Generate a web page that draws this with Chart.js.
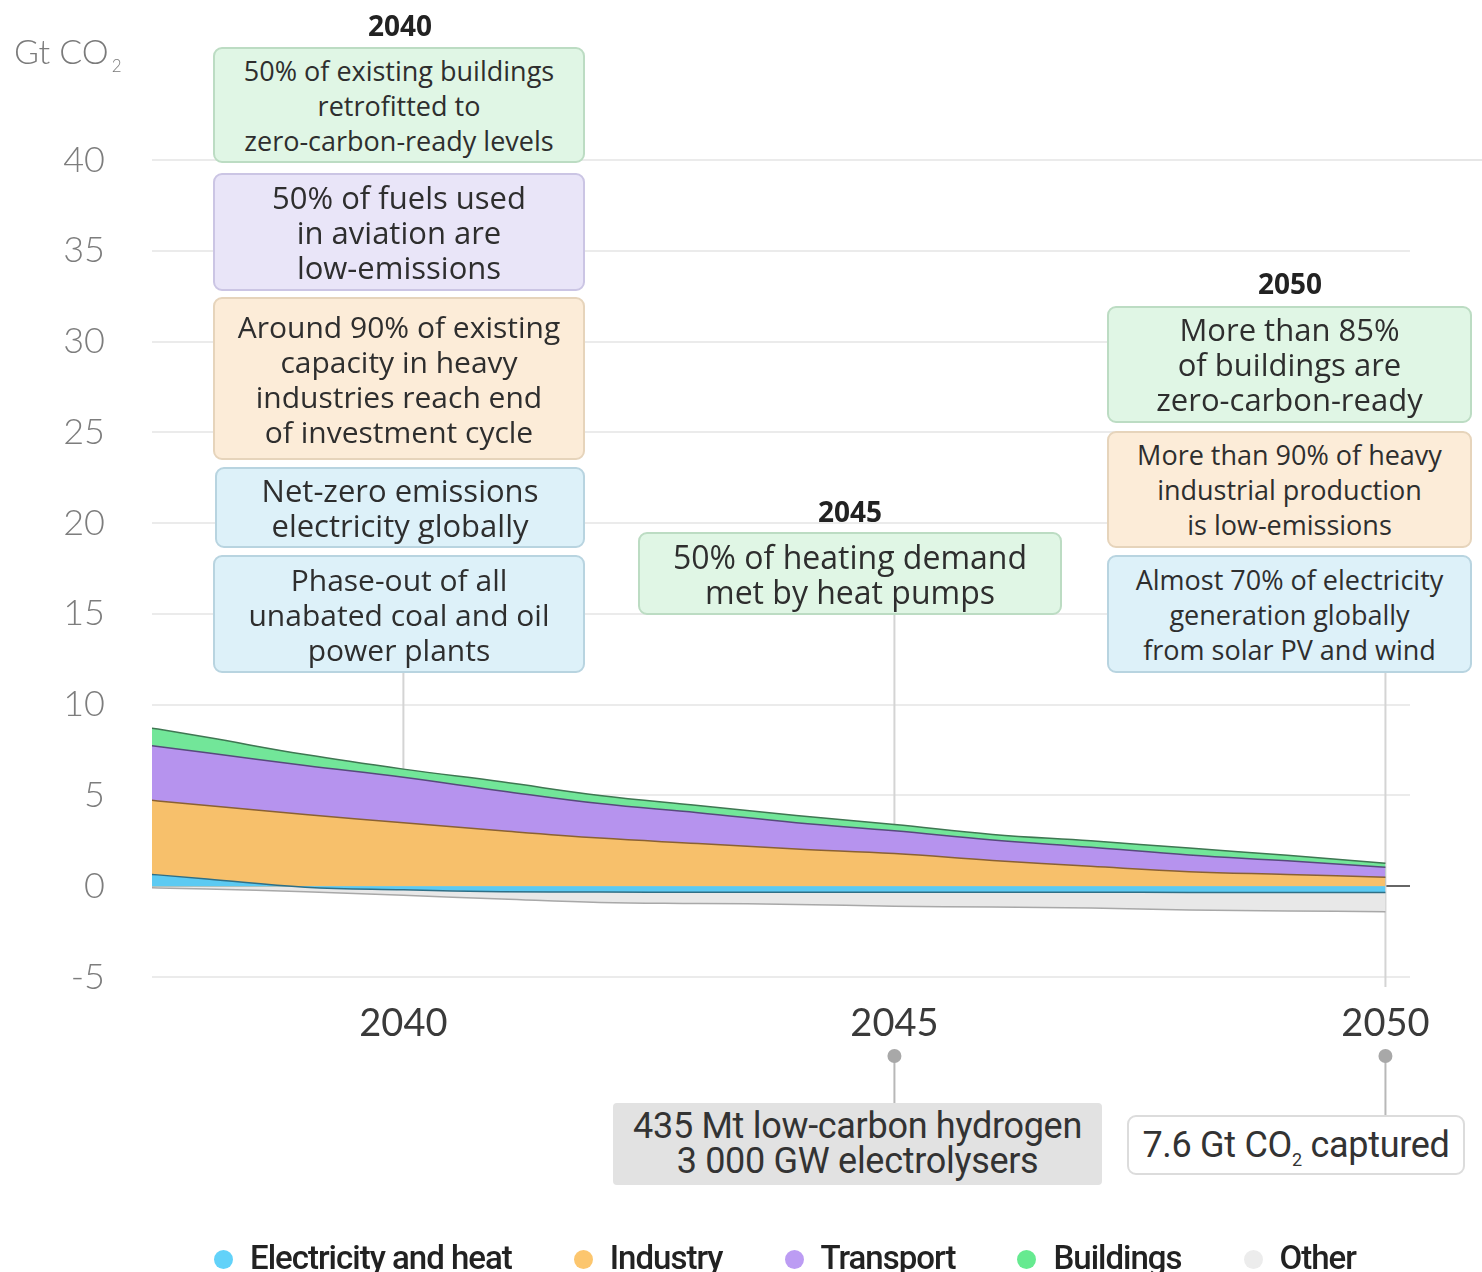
<!DOCTYPE html>
<html>
<head>
<meta charset="utf-8">
<script src="https://cdn.jsdelivr.net/npm/chart.js@4.4.1/dist/chart.umd.min.js"></script>
<style>
  body { margin: 0; background: #fff; font-family: "Open Sans", Lato, sans-serif; }
  #wrap { position: relative; width: 1482px; height: 1272px; overflow: hidden; }
  #chart { position: absolute; left: 0; top: 0; }
  .note { position: absolute; box-sizing: border-box; border: 2px solid; border-radius: 9px;
          display: flex; align-items: center; justify-content: center; text-align: center;
          color: #2e2e2e; line-height: 35px; white-space: nowrap; }
  .green  { background: #e0f6e5; border-color: #bcdcc3; }
  .purple { background: #e9e5f8; border-color: #cbc5e4; }
  .orange { background: #fcecd8; border-color: #e6d4bb; }
  .blue   { background: #ddf1f9; border-color: #b8d4e0; }
  .grey   { background: #e2e2e2; border-color: #e2e2e2; border-radius: 4px; }
  .plain  { background: #fff; border-color: #dcdcdc; }
  .year { position: absolute; font-weight: 700; font-size: 28px; color: #222; transform: translateX(-50%); }
  .cond { font-family: Roboto, sans-serif; letter-spacing: -0.3px; color: #333; }
  .cond sub { font-size: 18px; vertical-align: baseline; position: relative; top: 9px; line-height: 0; }
  #unit { position: absolute; left: 14px; top: 30px; font-family: Lato, sans-serif; font-size: 34px; color: #7a7a7a; font-weight: 300; }
  #unit sub { font-size: 17px; margin-left: 3px; }
  #legend { position: absolute; left: 214px; top: 1238px; display: flex; gap: 62px;
            font-family: Roboto, sans-serif; font-weight: 500; font-size: 33px; color: #222; letter-spacing: -1px; }
  #legend span.dot { display: inline-block; width: 19px; height: 19px; border-radius: 50%; margin-right: 17px; vertical-align: 0px; }
</style>
</head>
<body>
<div id="wrap">
  <canvas id="chart" width="1482" height="1272"></canvas>

  <div id="unit">Gt CO<sub>2</sub></div>

  <div class="year" style="left:400px; top:6px;">2040</div>
  <div class="note green"  style="left:213px; top:47px;  width:372px; height:116px; font-size:27px;">50% of existing buildings<br>retrofitted to<br>zero-carbon-ready levels</div>
  <div class="note purple" style="left:213px; top:173px; width:372px; height:118px; font-size:31px;">50% of fuels used<br>in aviation are<br>low-emissions</div>
  <div class="note orange" style="left:213px; top:297px; width:372px; height:163px; font-size:30px;">Around 90% of existing<br>capacity in heavy<br>industries reach end<br>of investment cycle</div>
  <div class="note blue"   style="left:215px; top:467px; width:370px; height:81px;  font-size:31px;">Net-zero emissions<br>electricity globally</div>
  <div class="note blue"   style="left:213px; top:555px; width:372px; height:118px; font-size:30px;">Phase-out of all<br>unabated coal and oil<br>power plants</div>

  <div class="year" style="left:850px; top:492px;">2045</div>
  <div class="note green"  style="left:638px; top:532px; width:424px; height:83px; font-size:32px;">50% of heating demand<br>met by heat pumps</div>

  <div class="year" style="left:1290px; top:264px;">2050</div>
  <div class="note green"  style="left:1107px; top:306px; width:365px; height:117px; font-size:31px;">More than 85%<br>of buildings are<br>zero-carbon-ready</div>
  <div class="note orange" style="left:1107px; top:431px; width:365px; height:117px; font-size:27px;">More than 90% of heavy<br>industrial production<br>is low-emissions</div>
  <div class="note blue"   style="left:1107px; top:555px; width:365px; height:118px; font-size:27px;">Almost 70% of electricity<br>generation globally<br>from solar PV and wind</div>

  <div class="note grey cond"  style="left:613px; top:1103px; width:489px; height:82px; font-size:36px;">435 Mt low-carbon hydrogen<br>3 000 GW electrolysers</div>
  <div class="note plain cond" style="left:1127px; top:1115px; width:338px; height:60px; font-size:36px;"><span>7.6 Gt CO<sub>2</sub> captured</span></div>

  <div id="legend"></div>
</div>

<script>
// CO2 emissions by sector, Gt CO2 per year
const years = [2037, 2038, 2039, 2040, 2041, 2042, 2043, 2044, 2045, 2046, 2047, 2048, 2049, 2050];
const electricity = [0.85, 0.40, -0.05, -0.20, -0.30, -0.32, -0.33, -0.33, -0.33, -0.33, -0.33, -0.34, -0.34, -0.35];
const industry    = [4.10, 4.05, 3.95, 3.50, 3.05, 2.65, 2.35, 2.05, 1.80, 1.42, 1.10, 0.80, 0.65, 0.50];
const transport   = [3.10, 2.90, 2.70, 2.50, 2.20, 1.90, 1.70, 1.45, 1.25, 1.13, 1.05, 0.92, 0.75, 0.55];
const buildings   = [1.05, 0.85, 0.60, 0.45, 0.50, 0.45, 0.40, 0.40, 0.35, 0.30, 0.35, 0.38, 0.30, 0.22];
const other       = [-0.05, -0.15, -0.25, -0.30, -0.40, -0.57, -0.62, -0.67, -0.77, -0.82, -0.87, -0.97, -1.02, -1.05];

const sectorNames = ["Electricity and heat", "Industry", "Transport", "Buildings", "Other"];
const sectorData = [electricity, industry, transport, buildings, other];
const fillColors = ["#5ccaf2", "#f7c06b", "#b693ee", "#72e699", "#e8e8e8"];
const lineColors = ["#2f6f86", "#8a6133", "#574a7c", "#3f7652", "#a8a8a8"];
const legendColors = ["#62d2f9", "#fcc66e", "#bc9cf3", "#66ea90", "#ececec"];

const yTicks = [-5, 0, 5, 10, 15, 20, 25, 30, 35, 40];
const xTicks = [2040, 2045, 2050];

// html legend
const legend = document.getElementById("legend");
sectorNames.forEach((name, i) => {
    const item = document.createElement("div");
    item.innerHTML = '<span class="dot" style="background:' + legendColors[i] + '"></span>' + name;
    legend.appendChild(item);
});

// total of the positive stack at a year
function stackTop(year) {
    const i = years.indexOf(year);
    let sum = 0;
    sectorData.forEach(d => { if (d[i] > 0) sum += d[i]; });
    return sum;
}

// leader lines from the milestone boxes down to the chart
const connectors = {
    id: "connectors",
    beforeDatasetsDraw(chart) {
        const {ctx, chartArea, scales: {x, y}} = chart;
        ctx.save();
        ctx.strokeStyle = "#d4d4d4";
        ctx.lineWidth = 2;
        ctx.beginPath();
        ctx.moveTo(x.getPixelForValue(2040), 673);
        ctx.lineTo(x.getPixelForValue(2040), y.getPixelForValue(stackTop(2040)));
        ctx.moveTo(x.getPixelForValue(2045), 615);
        ctx.lineTo(x.getPixelForValue(2045), y.getPixelForValue(stackTop(2045)));
        ctx.moveTo(x.getPixelForValue(2050), 673);
        ctx.lineTo(x.getPixelForValue(2050), 987);
        ctx.stroke();
        // top rule runs on past the plot
        ctx.strokeStyle = "#e6e6e6";
        ctx.beginPath();
        ctx.moveTo(chartArea.right, y.getPixelForValue(40));
        ctx.lineTo(1482, y.getPixelForValue(40));
        ctx.stroke();
        ctx.restore();
    },
    afterDraw(chart) {
        const {ctx, scales: {x}} = chart;
        ctx.save();
        ctx.strokeStyle = "#b8b8b8";
        ctx.fillStyle = "#a8a8a8";
        ctx.lineWidth = 2;
        [[2045, 1103], [2050, 1115]].forEach(([yr, boxTop]) => {
            const px = x.getPixelForValue(yr);
            ctx.beginPath();
            ctx.moveTo(px, 1056);
            ctx.lineTo(px, boxTop);
            ctx.stroke();
            ctx.beginPath();
            ctx.arc(px, 1056, 7, 0, Math.PI * 2);
            ctx.fill();
        });
        ctx.restore();
    }
};

const ctx = document.getElementById("chart").getContext("2d");
new Chart(ctx, {
    type: "line",
    data: {
        labels: years,
        datasets: sectorNames.map((name, i) => ({
            label: name,
            data: years.map((yr, j) => ({x: yr, y: sectorData[i][j]})),
            backgroundColor: fillColors[i],
            borderColor: lineColors[i],
            borderWidth: 1.5,
            fill: "origin",
            pointRadius: 0,
            tension: 0.4
        }))
    },
    options: {
        responsive: false,
        animation: false,
        layout: { padding: { left: 0, right: 72, top: 160, bottom: 215 } },
        plugins: { legend: { display: false }, tooltip: { enabled: false } },
        scales: {
            x: {
                type: "linear",
                min: 2037.44,
                max: 2050.25,
                afterBuildTicks: s => { s.ticks = xTicks.map(v => ({value: v})); },
                afterFit: s => { s.height = 80; },
                grid: { display: false, drawTicks: false },
                border: { display: false },
                ticks: { padding: 24, color: "#3a3a3a", font: { family: "Lato", size: 38 }, callback: v => String(v) }
            },
            y: {
                stacked: true,
                min: -5,
                max: 40,
                afterBuildTicks: s => { s.ticks = yTicks.map(v => ({value: v})); },
                afterFit: s => { s.width = 152; },
                grid: {
                    drawTicks: false,
                    lineWidth: 2,
                    color: c => c.tick && c.tick.value === 0 ? "#666" : "#ebebeb"
                },
                border: { display: false },
                ticks: { padding: 47, color: "#7d7d7d", font: { family: "Lato", size: 36, weight: 300 } }
            }
        }
    },
    plugins: [connectors]
});
</script>
</body>
</html>
